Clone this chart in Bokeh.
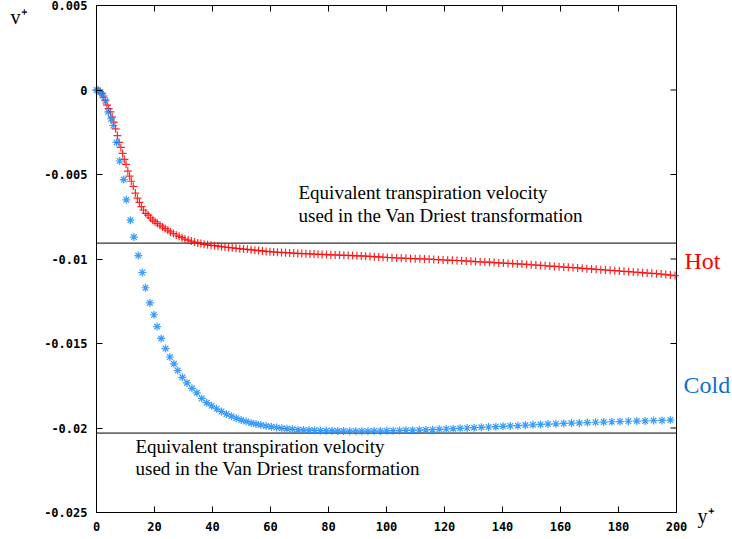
import math
from bokeh.plotting import figure
from bokeh.models import Range1d, FixedTicker, Label, LinearAxis
from bokeh.embed import file_html
from bokeh.resources import INLINE

# Hot wall: y+ and v+
hot_yp = [0.0, 0.6, 1.2, 1.8, 2.4, 3.0, 3.6, 4.2, 4.8, 5.4, 6.0, 6.6, 7.2, 7.8, 8.4, 9.0, 9.6,
          10.2, 10.8, 11.4, 12.0, 12.7, 13.4, 14.1, 14.8, 15.5, 16.2, 17.0, 17.8, 18.6, 19.4,
          20.2, 21.0, 21.9, 22.8, 23.7, 24.6, 25.5, 26.5, 27.5, 28.5, 29.5, 30.5, 31.6, 32.7,
          33.8, 34.9, 36.0, 37.1, 38.3, 39.5, 40.7, 41.9, 43.1, 44.3, 45.5, 46.8, 48.1, 49.4,
          50.7, 52.0, 53.3, 54.6, 55.9, 57.2, 58.5, 59.8, 61.1, 62.4, 63.8, 65.2, 66.6, 68.0,
          69.4, 70.8, 72.2, 73.6, 75.0, 76.4, 77.8, 79.3, 80.8, 82.3, 83.8, 85.3, 86.8, 88.3,
          89.8, 91.3, 92.8, 94.3, 95.8, 97.3, 98.8, 100.3, 101.9, 103.5, 105.1, 106.7, 108.3,
          109.9, 111.5, 113.1, 114.7, 116.3, 117.9, 119.5, 121.1, 122.7, 124.3, 125.9, 127.5,
          129.1, 130.7, 132.3, 133.9, 135.5, 137.1, 138.7, 140.3, 141.9, 143.5, 145.1, 146.7,
          148.3, 149.9, 151.5, 153.1, 154.7, 156.3, 157.9, 159.5, 161.1, 162.7, 164.3, 165.9,
          167.5, 169.1, 170.7, 172.3, 173.9, 175.5, 177.1, 178.7, 180.3, 181.9, 183.5, 185.1,
          186.7, 188.3, 189.9, 191.5, 193.1, 194.7, 196.3, 197.9, 199.5]
hot_vp = [0.0, -0.00003, -0.0001, -0.0002, -0.00042, -0.0006, -0.0009, -0.0011, -0.0013,
          -0.0016, -0.0019, -0.0023, -0.0027, -0.0031, -0.0034, -0.00375, -0.0041, -0.0044,
          -0.0048, -0.0051, -0.0054, -0.0057, -0.0061, -0.0064, -0.00665, -0.0069, -0.0071,
          -0.0073, -0.0074, -0.00757, -0.0077, -0.0078, -0.0079, -0.0080, -0.0081, -0.0082,
          -0.0083, -0.0084, -0.00849, -0.00858, -0.00866, -0.00874, -0.00882, -0.00888,
          -0.00894, -0.00900, -0.00905, -0.00909, -0.00913, -0.00916, -0.00919, -0.00921,
          -0.00924, -0.00927, -0.00929, -0.00932, -0.00934, -0.00937, -0.00939, -0.00941,
          -0.00943, -0.00946, -0.00948, -0.00950, -0.00952, -0.00955, -0.00957, -0.00958,
          -0.00960, -0.00961, -0.00963, -0.00964, -0.00965, -0.00967, -0.00968, -0.00969,
          -0.00970, -0.00971, -0.00972, -0.00973, -0.00974, -0.00975, -0.00976, -0.00977,
          -0.00978, -0.00979, -0.00980, -0.00981, -0.00982, -0.00983, -0.00985, -0.00986,
          -0.00988, -0.00989, -0.00991, -0.00992, -0.00994, -0.00995, -0.00996, -0.00997,
          -0.00998, -0.00999, -0.01000, -0.01001, -0.01003, -0.01004, -0.01006, -0.01007,
          -0.01008, -0.01009, -0.01010, -0.01012, -0.01013, -0.01015, -0.01017, -0.01018,
          -0.01019, -0.01021, -0.01023, -0.01024, -0.01026, -0.01027, -0.01029, -0.01030,
          -0.01032, -0.01034, -0.01036, -0.01038, -0.01040, -0.01042, -0.01044, -0.01046,
          -0.01048, -0.01049, -0.01051, -0.01053, -0.01055, -0.01057, -0.01059, -0.01061,
          -0.01063, -0.01065, -0.01067, -0.01069, -0.01071, -0.01073, -0.01075, -0.01077,
          -0.01079, -0.01081, -0.01083, -0.01085, -0.01087, -0.01089, -0.01092, -0.01095,
          -0.01098]

# Cold wall: y+ and v+
cold_yp = [0.0, 0.6, 1.3, 2.3, 3.1, 4.1, 5.0, 5.8, 6.9, 8.0, 9.4, 10.3, 11.7, 12.9, 14.4,
           15.8, 16.9, 18.4, 19.8, 20.9, 22.3, 23.8, 25.3, 26.7, 28.0, 29.6, 31.2, 32.9, 34.6,
           36.3, 38.0, 39.7, 41.4, 43.1, 44.8, 46.5, 48.2, 49.9, 51.6, 53.3, 55.0, 56.7, 58.5,
           60.3, 62.1, 63.9, 65.7, 67.6, 69.5, 71.4, 73.3, 75.2, 77.2, 79.2, 81.2, 83.2, 85.2,
           87.3, 89.4, 91.5, 93.6, 95.7, 97.9, 100.1, 102.3, 104.5, 106.7, 109.0, 111.3, 113.6,
           115.9, 118.2, 120.6, 123.0, 125.4, 127.8, 130.2, 132.7, 135.2, 137.7, 140.2, 142.7,
           145.3, 147.9, 150.5, 153.1, 155.7, 158.4, 161.1, 163.8, 166.5, 169.3, 172.1, 174.9,
           177.7, 180.5, 183.4, 186.3, 189.2, 192.1, 195.0, 197.9]
cold_vp = [0.0, -0.00003, -0.00012, -0.00034, -0.00065, -0.0013, -0.0017, -0.0021, -0.0031,
           -0.0042, -0.0053, -0.0065, -0.0077, -0.0087, -0.0098, -0.0108, -0.0117, -0.0126,
           -0.0133, -0.0140, -0.0147, -0.0153, -0.0158, -0.0162, -0.0166, -0.0170, -0.01733,
           -0.01765, -0.01792, -0.01825, -0.01850, -0.01869, -0.01886, -0.01903, -0.01917,
           -0.01930, -0.01942, -0.01953, -0.01962, -0.01970, -0.01976, -0.01982, -0.01988,
           -0.01993, -0.01997, -0.02002, -0.02005, -0.02008, -0.02010, -0.02012, -0.02013,
           -0.02014, -0.02015, -0.02016, -0.02017, -0.02018, -0.02018, -0.02019, -0.02019,
           -0.02019, -0.02019, -0.02018, -0.02018, -0.02017, -0.02016, -0.02015, -0.02014,
           -0.02013, -0.02012, -0.02011, -0.02010, -0.02008, -0.02006, -0.02004, -0.02002,
           -0.02000, -0.01998, -0.01996, -0.01994, -0.01992, -0.01990, -0.01988, -0.01986,
           -0.01983, -0.01981, -0.01979, -0.01977, -0.01975, -0.01973, -0.01971, -0.01970,
           -0.01968, -0.01966, -0.01965, -0.01963, -0.01962, -0.01960, -0.01959, -0.01958,
           -0.01956, -0.01955, -0.01953]

# Equivalent transpiration velocities (horizontal reference lines)
hot_transpiration = -0.00906
cold_transpiration = -0.0203

x_ticks = [0, 20, 40, 60, 80, 100, 120, 140, 160, 180, 200]
y_ticks = [0.005, 0.0, -0.005, -0.01, -0.015, -0.02, -0.025]
y_tick_labels = ["0.005", "0", "-0.005", "-0.01", "-0.015", "-0.02", "-0.025"]
X_MIN, X_MAX = 0, 200
Y_MIN, Y_MAX = -0.025, 0.005

annotation_lines = ["Equivalent transpiration velocity", "used in the Van Driest transformation"]

HOT_COLOR = "#ff0000"
COLD_MARK = "#1a8cff"
COLD_TEXT = "#1070c8"
TICK_FONT = "DejaVu Sans Mono"
SERIF = "Liberation Serif"

# canvas layout (pixels): the data box sits inside a frame that fills the whole canvas
W, H = 732, 539
BOX_L, BOX_R, BOX_T, BOX_B = 96, 676, 5, 512
sx = (BOX_R - BOX_L) / (X_MAX - X_MIN)
sy = (BOX_B - BOX_T) / (Y_MAX - Y_MIN)
x_lo, x_hi = X_MIN - BOX_L / sx, X_MAX + (W - BOX_R) / sx
y_lo, y_hi = Y_MIN - (H - BOX_B) / sy, Y_MAX + BOX_T / sy


def dx(px):
    return x_lo + px / sx


def dy(py):
    return y_hi - py / sy


p = figure(width=W, height=H, output_backend="svg", toolbar_location=None,
           x_range=Range1d(x_lo, x_hi), y_range=Range1d(y_lo, y_hi),
           x_axis_location=None, y_axis_location=None, min_border=0,
           background_fill_color="white", border_fill_color="white")
p.grid.visible = False
p.outline_line_color = None


def make_axis(ticks, loc, bounds):
    return LinearAxis(ticker=FixedTicker(ticks=ticks), fixed_location=loc, bounds=bounds,
                      major_tick_in=6, major_tick_out=0, minor_tick_line_color=None,
                      axis_line_color="black", major_tick_line_color="black",
                      major_label_text_font=TICK_FONT, major_label_text_font_style="bold",
                      major_label_text_font_size="12px", major_label_text_color="black")


bottom_ax = make_axis(x_ticks, Y_MIN, (X_MIN, X_MAX))
bottom_ax.major_label_standoff = 9
left_ax = make_axis(y_ticks, X_MIN, (Y_MIN, Y_MAX))
left_ax.major_label_standoff = 9
left_ax.major_label_overrides = {t: s for t, s in zip(y_ticks, y_tick_labels)}
p.add_layout(bottom_ax, "below")
p.add_layout(left_ax, "left")

# border box and mirrored inward ticks on the top and right sides
p.quad(left=[X_MIN], right=[X_MAX], bottom=[Y_MIN], top=[Y_MAX], fill_color=None,
       line_color="black", line_width=1)
p.ray(x=x_ticks, y=[Y_MAX] * len(x_ticks), length=6, length_units="screen",
      angle=-math.pi / 2, line_color="black", line_width=1)
p.ray(x=[X_MAX] * len(y_ticks), y=y_ticks, length=6, length_units="screen",
      angle=math.pi, line_color="black", line_width=1)

# equivalent transpiration velocity lines across the data box
p.segment(x0=[X_MIN, X_MIN], x1=[X_MAX, X_MAX], y0=[hot_transpiration, cold_transpiration],
          y1=[hot_transpiration, cold_transpiration], line_color="black", line_width=1)

p.scatter(hot_yp, hot_vp, marker="cross", size=8, line_color=HOT_COLOR, line_width=1.2, line_alpha=0.85)
p.scatter(cold_yp, cold_vp, marker="asterisk", size=8, line_color=COLD_MARK, line_width=1.2, line_alpha=0.85)

# annotations (positions given in canvas pixels)
for i, txt in enumerate(annotation_lines):
    p.add_layout(Label(x=dx(298), y=dy(192 + 23 * i), text=txt, text_font=SERIF,
                       text_font_size="19px", text_baseline="middle", text_color="black"))
    p.add_layout(Label(x=dx(135), y=dy(446 + 22 * i), text=txt, text_font=SERIF,
                       text_font_size="19px", text_baseline="middle", text_color="black"))

p.add_layout(Label(x=dx(684), y=dy(260), text="Hot", text_font=SERIF, text_font_size="24px",
                   text_baseline="middle", text_color=HOT_COLOR))
p.add_layout(Label(x=dx(683), y=dy(384), text="Cold", text_font=SERIF, text_font_size="24px",
                   text_baseline="middle", text_color=COLD_TEXT))
p.add_layout(Label(x=dx(10), y=dy(16), text="v\u207a", text_font=SERIF, text_font_size="20px",
                   text_baseline="middle", text_color="black"))
p.add_layout(Label(x=dx(697), y=dy(515), text="y\u207a", text_font=SERIF, text_font_size="20px",
                   text_baseline="middle", text_color="black"))

open("out.html", "w").write(file_html(p, INLINE))
